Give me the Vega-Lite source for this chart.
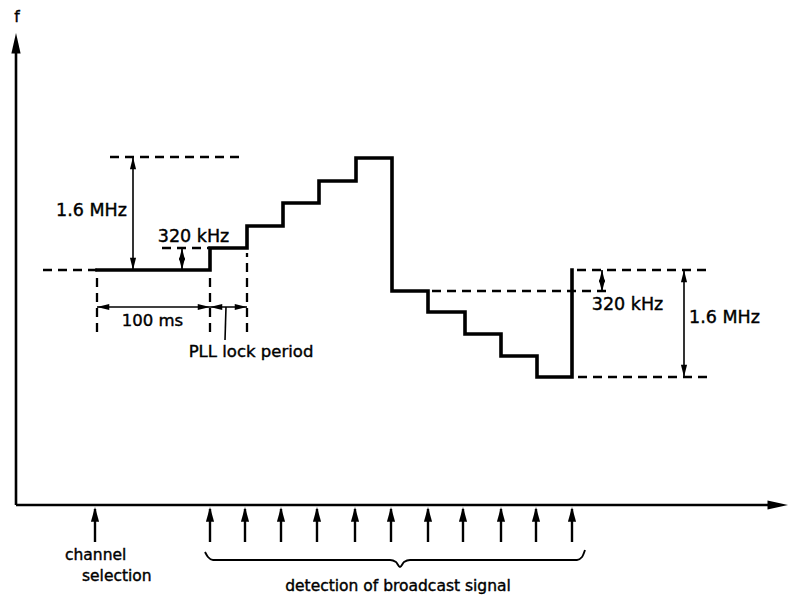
{
  "$schema": "https://vega.github.io/schema/vega-lite/v6.json",
  "width": 797,
  "height": 596,
  "autosize": "none",
  "padding": 0,
  "background": "white",
  "config": {"view": {"stroke": null}},
  "datasets": {
    "step": [
      {"i": 0, "t": 81, "f": 235}, {"i": 1, "t": 194, "f": 235}, {"i": 2, "t": 194, "f": 257},
      {"i": 3, "t": 231, "f": 257}, {"i": 4, "t": 231, "f": 279}, {"i": 5, "t": 267, "f": 279},
      {"i": 6, "t": 267, "f": 302}, {"i": 7, "t": 303, "f": 302}, {"i": 8, "t": 303, "f": 324},
      {"i": 9, "t": 340, "f": 324}, {"i": 10, "t": 340, "f": 347}, {"i": 11, "t": 376, "f": 347},
      {"i": 12, "t": 376, "f": 214}, {"i": 13, "t": 412, "f": 214}, {"i": 14, "t": 412, "f": 193},
      {"i": 15, "t": 449, "f": 193}, {"i": 16, "t": 449, "f": 171}, {"i": 17, "t": 485, "f": 171},
      {"i": 18, "t": 485, "f": 149}, {"i": 19, "t": 521, "f": 149}, {"i": 20, "t": 521, "f": 128},
      {"i": 21, "t": 556, "f": 128}, {"i": 22, "t": 556, "f": 235}
    ],
    "axes": [
      {"t": 0, "f": 0, "t2": 0, "f2": 460},
      {"t": 0, "f": 0, "t2": 760, "f2": 0}
    ],
    "axisUp": [{"t": 0, "f": 472}],
    "axisRight": [{"t": 772, "f": 0}],
    "thin": [
      {"t": 117, "f": 235, "t2": 117, "f2": 348},
      {"t": 166, "f": 235, "t2": 166, "f2": 257},
      {"t": 586, "f": 213, "t2": 586, "f2": 235},
      {"t": 668, "f": 128, "t2": 668, "f2": 235},
      {"t": 81, "f": 198, "t2": 231, "f2": 198},
      {"t": 210, "f": 198, "t2": 209, "f2": 165}
    ],
    "shafts": [
      {"t": 79, "f": -4, "t2": 79, "f2": -37},
      {"t": 194, "f": -4, "t2": 194, "f2": -37},
      {"t": 229, "f": -4, "t2": 229, "f2": -37},
      {"t": 265, "f": -4, "t2": 265, "f2": -37},
      {"t": 301, "f": -4, "t2": 301, "f2": -37},
      {"t": 339, "f": -4, "t2": 339, "f2": -37},
      {"t": 375, "f": -4, "t2": 375, "f2": -37},
      {"t": 412, "f": -4, "t2": 412, "f2": -37},
      {"t": 447, "f": -4, "t2": 447, "f2": -37},
      {"t": 485, "f": -4, "t2": 485, "f2": -37},
      {"t": 520, "f": -4, "t2": 520, "f2": -37},
      {"t": 556, "f": -4, "t2": 556, "f2": -37}
    ],
    "shaftHeads": [
      {"t": 79, "f": -2}, {"t": 194, "f": -2}, {"t": 229, "f": -2}, {"t": 265, "f": -2},
      {"t": 301, "f": -2}, {"t": 339, "f": -2}, {"t": 375, "f": -2}, {"t": 412, "f": -2},
      {"t": 447, "f": -2}, {"t": 485, "f": -2}, {"t": 520, "f": -2}, {"t": 556, "f": -2}
    ],
    "dashed": [
      {"t": 27, "f": 235, "t2": 81, "f2": 235},
      {"t": 94, "f": 348, "t2": 226, "f2": 348},
      {"t": 146, "f": 257, "t2": 194, "f2": 257},
      {"t": 81, "f": 173, "t2": 81, "f2": 232},
      {"t": 194, "f": 173, "t2": 194, "f2": 232},
      {"t": 231, "f": 173, "t2": 231, "f2": 252},
      {"t": 416, "f": 214, "t2": 592, "f2": 214},
      {"t": 561, "f": 235, "t2": 694, "f2": 235},
      {"t": 562, "f": 128, "t2": 694, "f2": 128}
    ],
    "headUp": [
      {"t": 117, "f": 348}, {"t": 166, "f": 257}, {"t": 586, "f": 235}, {"t": 668, "f": 235}
    ],
    "headDown": [
      {"t": 117, "f": 235}, {"t": 166, "f": 235}, {"t": 586, "f": 213}, {"t": 668, "f": 128}
    ],
    "headLeft": [{"t": 81, "f": 198}, {"t": 194, "f": 198}],
    "headRight": [{"t": 194, "f": 198}, {"t": 231, "f": 198}],
    "brace": [
      {"i": 0, "t": 189, "f": -47}, {"i": 1, "t": 192, "f": -52}, {"i": 2, "t": 197, "f": -55},
      {"i": 3, "t": 374, "f": -55}, {"i": 4, "t": 380, "f": -57}, {"i": 5, "t": 384, "f": -62},
      {"i": 6, "t": 388, "f": -57}, {"i": 7, "t": 394, "f": -55}, {"i": 8, "t": 561, "f": -55},
      {"i": 9, "t": 566, "f": -52}, {"i": 10, "t": 569, "f": -45}
    ],
    "bigLabels": [
      {"t": 75.5, "f": 294, "label": "1.6 MHz"},
      {"t": 177.5, "f": 268, "label": "320 kHz"},
      {"t": 611.5, "f": 200, "label": "320 kHz"},
      {"t": 708.5, "f": 187, "label": "1.6 MHz"}
    ],
    "midLabels": [
      {"t": 136.5, "f": 184, "label": "100 ms"},
      {"t": 235, "f": 153, "label": "PLL lock period"}
    ],
    "leftLabels": [
      {"t": 49, "f": -50, "label": "channel"},
      {"t": 66, "f": -71, "label": "selection"}
    ],
    "bottomLabels": [
      {"t": 382, "f": -81, "label": "detection of broadcast signal"},
      {"t": 1, "f": 488, "label": "f"}
    ]
  },
  "encoding": {
    "x": {"field": "t", "type": "quantitative", "scale": {"domain": [-16, 781], "nice": false, "zero": false}, "axis": null},
    "y": {"field": "f", "type": "quantitative", "scale": {"domain": [-91, 505], "nice": false, "zero": false}, "axis": null}
  },
  "layer": [
    {
      "data": {"name": "dashed"},
      "mark": {"type": "rule", "color": "black", "strokeWidth": 2.3, "strokeDash": [9, 6]},
      "encoding": {"x2": {"field": "t2"}, "y2": {"field": "f2"}}
    },
    {
      "data": {"name": "thin"},
      "mark": {"type": "rule", "color": "black", "strokeWidth": 1.6},
      "encoding": {"x2": {"field": "t2"}, "y2": {"field": "f2"}}
    },
    {
      "data": {"name": "shafts"},
      "mark": {"type": "rule", "color": "black", "strokeWidth": 2.4},
      "encoding": {"x2": {"field": "t2"}, "y2": {"field": "f2"}}
    },
    {
      "data": {"name": "axes"},
      "mark": {"type": "rule", "color": "black", "strokeWidth": 2.6},
      "encoding": {"x2": {"field": "t2"}, "y2": {"field": "f2"}}
    },
    {
      "data": {"name": "step"},
      "mark": {"type": "line", "color": "black", "strokeWidth": 3.6, "strokeJoin": "miter", "strokeCap": "square"},
      "encoding": {"order": {"field": "i", "type": "quantitative"}}
    },
    {
      "data": {"name": "brace"},
      "mark": {"type": "line", "color": "black", "strokeWidth": 1.9, "interpolate": "monotone"},
      "encoding": {"order": {"field": "i", "type": "quantitative"}}
    },
    {
      "data": {"name": "axisUp"},
      "mark": {"type": "point", "shape": "M0,0L0.45,2L-0.45,2Z", "filled": true, "size": 420, "color": "black", "opacity": 1, "strokeWidth": 0}
    },
    {
      "data": {"name": "axisRight"},
      "mark": {"type": "point", "shape": "M0,0L-2,0.45L-2,-0.45Z", "filled": true, "size": 420, "color": "black", "opacity": 1, "strokeWidth": 0}
    },
    {
      "data": {"name": "shaftHeads"},
      "mark": {"type": "point", "shape": "M0,0L0.55,2L-0.55,2Z", "filled": true, "size": 220, "color": "black", "opacity": 1, "strokeWidth": 0}
    },
    {
      "data": {"name": "headUp"},
      "mark": {"type": "point", "shape": "M0,0L0.5,2L-0.5,2Z", "filled": true, "size": 150, "color": "black", "opacity": 1, "strokeWidth": 0}
    },
    {
      "data": {"name": "headDown"},
      "mark": {"type": "point", "shape": "M0,0L0.5,-2L-0.5,-2Z", "filled": true, "size": 150, "color": "black", "opacity": 1, "strokeWidth": 0}
    },
    {
      "data": {"name": "headLeft"},
      "mark": {"type": "point", "shape": "M0,0L2,0.5L2,-0.5Z", "filled": true, "size": 150, "color": "black", "opacity": 1, "strokeWidth": 0}
    },
    {
      "data": {"name": "headRight"},
      "mark": {"type": "point", "shape": "M0,0L-2,0.5L-2,-0.5Z", "filled": true, "size": 150, "color": "black", "opacity": 1, "strokeWidth": 0}
    },
    {
      "data": {"name": "bigLabels"},
      "mark": {"type": "text", "font": "DejaVu Sans", "fontSize": 17.5, "color": "black", "stroke": "black", "strokeWidth": 0.4, "align": "center", "baseline": "middle"},
      "encoding": {"text": {"field": "label"}}
    },
    {
      "data": {"name": "midLabels"},
      "mark": {"type": "text", "font": "DejaVu Sans", "fontSize": 16.5, "color": "black", "stroke": "black", "strokeWidth": 0.4, "align": "center", "baseline": "middle"},
      "encoding": {"text": {"field": "label"}}
    },
    {
      "data": {"name": "leftLabels"},
      "mark": {"type": "text", "font": "DejaVu Sans", "fontSize": 15.5, "color": "black", "stroke": "black", "strokeWidth": 0.4, "align": "left", "baseline": "middle"},
      "encoding": {"text": {"field": "label"}}
    },
    {
      "data": {"name": "bottomLabels"},
      "mark": {"type": "text", "font": "DejaVu Sans", "fontSize": 15.5, "color": "black", "stroke": "black", "strokeWidth": 0.4, "align": "center", "baseline": "middle"},
      "encoding": {"text": {"field": "label"}}
    }
  ]
}
